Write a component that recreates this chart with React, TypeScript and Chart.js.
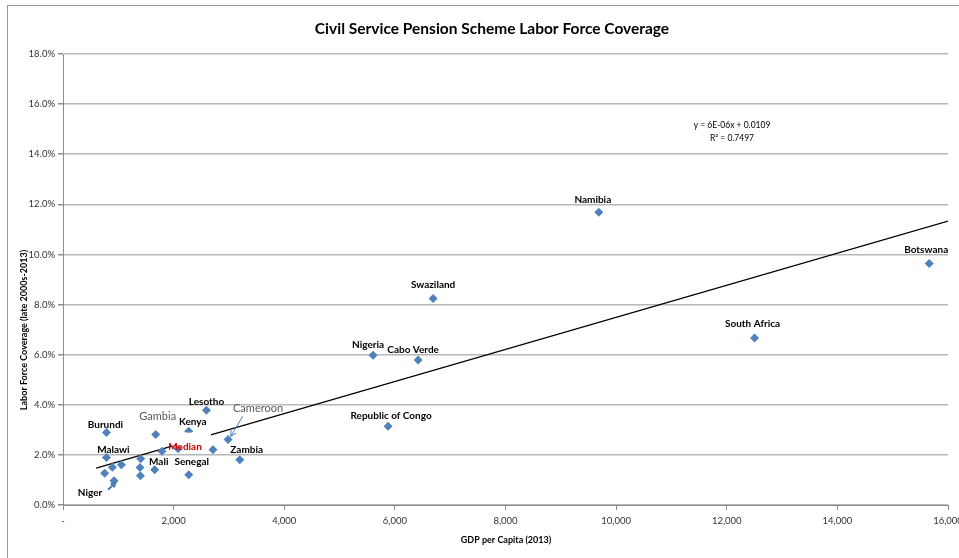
import React, { useEffect, useRef } from 'react';
import { Chart, registerables } from 'chart.js';

Chart.register(...registerables);

// ---- Data ----
const countryLabels = [
  'Burundi', 'Gambia', 'Kenya', 'Lesotho', 'Cameroon', 'Malawi', '', '', '', 'Niger',
  '', '', '', 'Mali', '', 'Median', '', 'Senegal', 'Zambia', 'Nigeria',
  'Cabo Verde', 'Republic of Congo', 'Swaziland', 'Namibia', 'South Africa', 'Botswana',
];
const gdpPerCapita = [
  785, 1676, 2273, 2593, 2984, 785, 893, 1056, 754, 922,
  1405, 1392, 1400, 1658, 1790, 2080, 2712, 2273, 3195, 5606,
  6420, 5877, 6691, 9687, 12503, 15660,
];
const coveragePct = [
  2.89, 2.81, 2.94, 3.78, 2.61, 1.90, 1.51, 1.61, 1.27, 0.97,
  1.85, 1.50, 1.17, 1.41, 2.15, 2.25, 2.21, 1.21, 1.81, 5.98,
  5.79, 3.14, 8.24, 11.68, 6.67, 9.64,
];
const trendSlope = 6.4e-6; // per unit of GDP (fraction)
const trendIntercept = 0.0109;
const trendRange = [600, 16000];
const xTicks = [0, 2000, 4000, 6000, 8000, 10000, 12000, 14000, 16000];
const yTicks = [0, 2, 4, 6, 8, 10, 12, 14, 16, 18];
const titleText = 'Civil Service Pension Scheme Labor Force Coverage';
const xTitle = 'GDP per Capita (2013)';
const yTitle = 'Labor Force Coverage (late 2000s-2013)';
const equationLines = ['y = 6E-06x + 0.0109', 'R\u00B2 = 0.7497'];

// ---- Styles / label placement (pixel offsets from point) ----
const FONT = "Lato, 'Noto Sans', sans-serif";
type LabelStyle = { dx: number; dy: number; kind: 'bold' | 'gray' | 'red' };
const labelStyles: Record<string, LabelStyle> = {
  Burundi: { dx: -1, dy: -8, kind: 'bold' },
  Gambia: { dx: 2, dy: -18, kind: 'gray' },
  Kenya: { dx: 4, dy: -10, kind: 'bold' },
  Lesotho: { dx: 0, dy: -9, kind: 'bold' },
  Cameroon: { dx: 30, dy: -31, kind: 'gray' },
  Malawi: { dx: 7, dy: -8, kind: 'bold' },
  Median: { dx: 7, dy: -2, kind: 'red' },
  Mali: { dx: 4, dy: -8, kind: 'bold' },
  Senegal: { dx: 3, dy: -13, kind: 'bold' },
  Zambia: { dx: 7, dy: -10, kind: 'bold' },
  Niger: { dx: -24, dy: 12, kind: 'bold' },
  Nigeria: { dx: -5, dy: -10, kind: 'bold' },
  'Cabo Verde': { dx: -5, dy: -10, kind: 'bold' },
  'Republic of Congo': { dx: 3, dy: -11, kind: 'bold' },
  Swaziland: { dx: 0, dy: -14, kind: 'bold' },
  Namibia: { dx: -6, dy: -13, kind: 'bold' },
  'South Africa': { dx: -2, dy: -14, kind: 'bold' },
  Botswana: { dx: -3, dy: -14, kind: 'bold' },
};

function drawArrow(ctx: CanvasRenderingContext2D, x1: number, y1: number, x2: number, y2: number, color: string, width: number, head: number) {
  const ang = Math.atan2(y2 - y1, x2 - x1);
  ctx.save();
  ctx.strokeStyle = color;
  ctx.lineWidth = width;
  ctx.beginPath();
  ctx.moveTo(x1, y1);
  ctx.lineTo(x2, y2);
  ctx.moveTo(x2 - head * Math.cos(ang - 0.5), y2 - head * Math.sin(ang - 0.5));
  ctx.lineTo(x2, y2);
  ctx.lineTo(x2 - head * Math.cos(ang + 0.5), y2 - head * Math.sin(ang + 0.5));
  ctx.stroke();
  ctx.restore();
}

const decorPlugin = {
  id: 'decor',
  beforeDraw(chart: any) {
    const ctx = chart.ctx as CanvasRenderingContext2D;
    ctx.save();
    ctx.fillStyle = '#ffffff';
    ctx.fillRect(0, 0, chart.width, chart.height);
    ctx.strokeStyle = '#9a9a9a';
    ctx.lineWidth = 1;
    ctx.strokeRect(7.5, 5.5, chart.width + 20, chart.height + 20);
    ctx.restore();
  },
  afterDatasetsDraw(chart: any) {
    const ctx = chart.ctx as CanvasRenderingContext2D;
    const xs = chart.scales.x;
    const ys = chart.scales.y;
    ctx.save();
    ctx.textAlign = 'center';
    ctx.textBaseline = 'middle';
    countryLabels.forEach((name, i) => {
      if (!name) return;
      const st = labelStyles[name];
      if (!st) return;
      const px = xs.getPixelForValue(gdpPerCapita[i]);
      const py = ys.getPixelForValue(coveragePct[i]);
      const lx = px + st.dx;
      const ly = py + st.dy;
      if (st.kind === 'red') {
        ctx.fillStyle = '#ffffff';
        ctx.fillRect(lx - 17, ly - 14, 43, 13);
      }
      if (st.kind === 'gray') {
        ctx.font = `normal 11px ${FONT}`;
        ctx.fillStyle = '#595959';
      } else if (st.kind === 'red') {
        ctx.font = `bold 10px ${FONT}`;
        ctx.fillStyle = '#D00000';
      } else {
        ctx.font = `bold 10px ${FONT}`;
        ctx.fillStyle = '#000000';
      }
      ctx.fillText(name, lx, ly);
      if (name === 'Cameroon') {
        drawArrow(ctx, px + 14.7, py - 23.3, px + 2.7, py - 3.3, '#4A7EBB', 1, 6);
      }
      if (name === 'Niger') {
        drawArrow(ctx, px - 6, py + 9, px + 1.5, py + 2, '#4A7EBB', 2, 5);
      }
    });
    // equation
    ctx.font = `normal 8.5px ${FONT}`;
    ctx.fillStyle = '#000000';
    ctx.fillText(equationLines[0], 732, 125);
    ctx.fillText(equationLines[1], 732, 138);
    ctx.restore();
  },
  afterDraw(chart: any) {
    const ctx = chart.ctx as CanvasRenderingContext2D;
    ctx.save();
    ctx.fillStyle = '#000000';
    ctx.textAlign = 'center';
    ctx.textBaseline = 'middle';
    ctx.font = `bold 15.5px ${FONT}`;
    ctx.fillText(titleText, 492, 29);
    ctx.font = `bold 9px ${FONT}`;
    ctx.fillText(xTitle, 506, 540);
    ctx.translate(24, 330);
    ctx.rotate(-Math.PI / 2);
    ctx.fillText(yTitle, 0, 0);
    ctx.restore();
  },
};

export default function App() {
  const ref = useRef<HTMLCanvasElement | null>(null);
  useEffect(() => {
    document.body.style.margin = '0';
    const canvas = ref.current;
    if (!canvas) return;
    const points = gdpPerCapita.map((x, i) => ({ x, y: coveragePct[i] }));
    const trend = trendRange.map((x) => ({ x, y: (trendSlope * x + trendIntercept) * 100 }));
    const chart = new Chart(canvas, {
      type: 'scatter',
      data: {
        datasets: [
          {
            type: 'line',
            data: trend,
            borderColor: '#000000',
            borderWidth: 1.3,
            pointRadius: 0,
            fill: false,
            order: 2,
          } as any,
          {
            type: 'scatter',
            data: points,
            pointStyle: 'rectRot',
            pointRadius: 4.5,
            backgroundColor: '#4F81BD',
            borderColor: '#4F81BD',
            borderWidth: 0,
            order: 1,
          } as any,
        ],
      },
      options: {
        animation: false,
        responsive: false,
        devicePixelRatio: 1,
        layout: { padding: { left: 0, right: 11, top: 54, bottom: 0 } },
        plugins: { legend: { display: false }, tooltip: { enabled: false }, title: { display: false } },
        scales: {
          x: {
            type: 'linear',
            min: 0,
            max: 16000,
            afterBuildTicks: (s: any) => { s.ticks = xTicks.map((v) => ({ value: v })); },
            afterFit: (s: any) => { s.height = 53; s.paddingRight = 0; s.paddingLeft = 0; },
            ticks: {
              callback: (v: any) => (Number(v) === 0 ? '-' : Number(v).toLocaleString('en-US')),
              font: { family: FONT, size: 9.5 },
              color: '#333333',
              padding: 5,
              maxRotation: 0,
              autoSkip: false,
            },
            grid: { drawOnChartArea: false, drawTicks: true, tickLength: 5, tickColor: '#8c8c8c', lineWidth: 1 },
            border: { color: '#8c8c8c', width: 1 },
          },
          y: {
            type: 'linear',
            min: 0,
            max: 18,
            afterBuildTicks: (s: any) => { s.ticks = yTicks.map((v) => ({ value: v })); },
            afterFit: (s: any) => { s.width = 63; },
            ticks: {
              callback: (v: any) => Number(v).toFixed(1) + '%',
              font: { family: FONT, size: 9.5 },
              color: '#333333',
              padding: 3,
              autoSkip: false,
            },
            grid: { color: '#b8b8b8', lineWidth: 1.5, drawTicks: true, tickLength: 5, tickColor: '#8c8c8c' },
            border: { color: '#8c8c8c', width: 1 },
          },
        },
      },
      plugins: [decorPlugin],
    });
    return () => chart.destroy();
  }, []);
  return (
    <canvas ref={ref} width={959} height={558} style={{ display: 'block', width: 959, height: 558 }} />
  );
}
